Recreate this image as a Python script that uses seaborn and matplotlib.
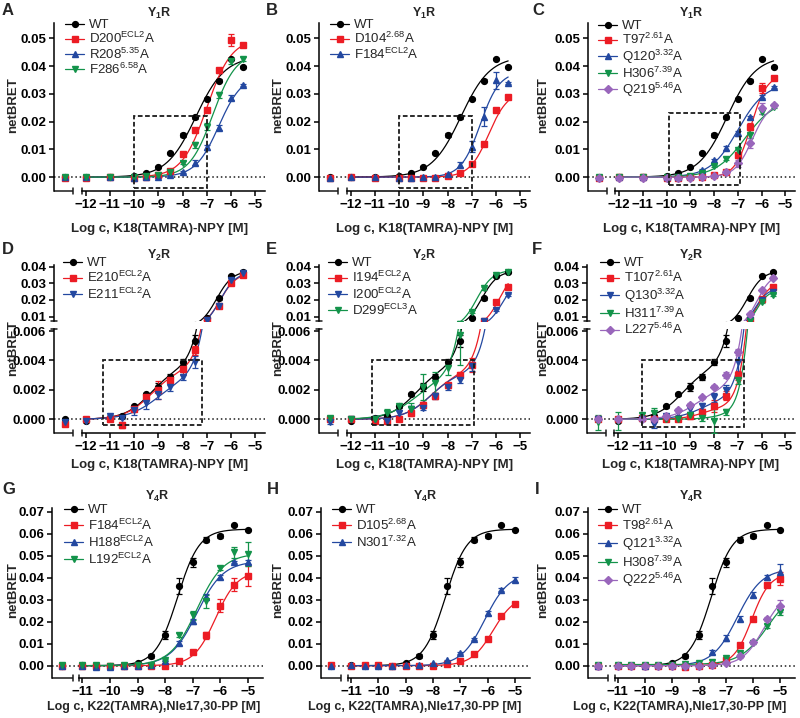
import numpy as np
import pandas as pd
import seaborn as sns
import matplotlib
matplotlib.use('Agg')
import matplotlib.pyplot as plt
from matplotlib.lines import Line2D
from matplotlib.patches import Rectangle
from matplotlib.ticker import FuncFormatter, FormatStrFormatter

# ---------------- data ----------------
# log concentrations; the first value of every series below is the buffer control
logc_y1 = [-12, -11, -10, -9.5, -9, -8.5, -8, -7.5, -7, -6.5, -6, -5.5]
logc_y2 = [-12, -11, -10.5, -10, -9.5, -9, -8.5, -8, -7.5, -7, -6.5, -6, -5.5]
logc_y4 = [-11, -10.5, -10, -9.5, -9, -8.5, -8, -7.5, -7, -6.5, -6, -5.5, -5]

# Y1R (A-C)
y1_wt = [0.0000, 0.0000, 0.0001, 0.0005, 0.0015, 0.0038, 0.0088, 0.0152, 0.0215, 0.0281, 0.0347, 0.0426, 0.0396]
y1_wt_err = [0.0002, 0.0002, 0.0002, 0.0002, 0.0002, 0.0003, 0.0004, 0.0006, 0.0005, 0.0005, 0.0005, 0.0003, 0.0003]
a_d200 = [-0.0003, -0.0002, 0.0000, -0.0004, 0.0000, 0.0009, 0.0021, 0.0083, 0.0168, 0.0243, 0.0384, 0.0495, 0.0477]
a_d200_err = [0.0002, 0.0002, 0.0002, 0.0003, 0.0002, 0.0003, 0.0003, 0.0005, 0.0005, 0.0006, 0.0008, 0.0022, 0.0004]
a_r208 = [0.0000, 0.0000, 0.0000, -0.0002, 0.0000, 0.0002, 0.0007, 0.0018, 0.0052, 0.0107, 0.0177, 0.0285, 0.0332]
a_r208_err = [0.0002, 0.0002, 0.0002, 0.0002, 0.0002, 0.0002, 0.0003, 0.0004, 0.0008, 0.0009, 0.0009, 0.0009, 0.0004]
a_f286 = [0.0000, 0.0000, 0.0000, 0.0000, 0.0003, 0.0008, 0.0019, 0.0052, 0.0116, 0.0182, 0.0296, 0.0418, 0.0425]
a_f286_err = [0.0002, 0.0002, 0.0002, 0.0002, 0.0002, 0.0003, 0.0004, 0.0006, 0.0012, 0.0014, 0.0012, 0.0009, 0.0007]
b_d104 = [-0.0004, 0.0001, -0.0002, -0.0004, -0.0002, -0.0002, -0.0002, 0.0004, 0.0014, 0.0048, 0.0121, 0.0240, 0.0287]
b_d104_err = [0.0002, 0.0002, 0.0002, 0.0002, 0.0002, 0.0002, 0.0002, 0.0003, 0.0004, 0.0005, 0.0006, 0.0006, 0.0005]
b_f184 = [-0.0003, 0.0000, -0.0001, -0.0003, -0.0002, 0.0000, 0.0001, 0.0010, 0.0045, 0.0110, 0.0218, 0.0349, 0.0340]
b_f184_err = [0.0002, 0.0002, 0.0002, 0.0002, 0.0002, 0.0002, 0.0002, 0.0004, 0.0009, 0.0020, 0.0035, 0.0030, 0.0003]
c_t97 = [-0.0003, -0.0001, -0.0001, -0.0002, -0.0002, -0.0001, 0.0000, 0.0008, 0.0020, 0.0078, 0.0182, 0.0322, 0.0357]
c_t97_err = [0.0002, 0.0002, 0.0002, 0.0002, 0.0002, 0.0002, 0.0002, 0.0003, 0.0004, 0.0010, 0.0012, 0.0018, 0.0008]
c_q120 = [0.0000, 0.0000, 0.0000, -0.0001, 0.0000, 0.0005, 0.0024, 0.0060, 0.0104, 0.0158, 0.0215, 0.0290, 0.0325]
c_q120_err = [0.0002, 0.0002, 0.0002, 0.0002, 0.0002, 0.0003, 0.0006, 0.0006, 0.0008, 0.0009, 0.0006, 0.0006, 0.0004]
c_h306 = [0.0000, 0.0000, 0.0000, 0.0000, 0.0000, 0.0005, 0.0015, 0.0040, 0.0066, 0.0096, 0.0150, 0.0234, 0.0254]
c_h306_err = [0.0002, 0.0002, 0.0002, 0.0002, 0.0002, 0.0002, 0.0003, 0.0004, 0.0005, 0.0006, 0.0008, 0.0008, 0.0006]
c_q219 = [-0.0002, -0.0002, -0.0002, -0.0003, -0.0002, -0.0002, 0.0000, 0.0005, 0.0020, 0.0050, 0.0123, 0.0248, 0.0258]
c_q219_err = [0.0002, 0.0002, 0.0002, 0.0002, 0.0002, 0.0002, 0.0002, 0.0003, 0.0004, 0.0012, 0.0017, 0.0020, 0.0007]

# Y2R (D-F)
y2_wt = [0.0000, -0.0001, 0.0001, 0.0002, 0.0009, 0.0017, 0.0022, 0.0029, 0.0039, 0.0053, 0.0094, 0.0210, 0.0344, 0.0370]
y2_wt_err = [0.0001, 0.0001, 0.0001, 0.0001, 0.0001, 0.0001, 0.0003, 0.0002, 0.0002, 0.0004, 0.0005, 0.0008, 0.0008, 0.0005]
d_e210 = [-0.0003, 0.0000, 0.0000, -0.0004, 0.0007, 0.0015, 0.0020, 0.0027, 0.0034, 0.0047, 0.0079, 0.0166, 0.0300, 0.0350]
d_e210_err = [0.0001, 0.0001, 0.0001, 0.0002, 0.0001, 0.0001, 0.0006, 0.0002, 0.0004, 0.0003, 0.0005, 0.0008, 0.0008, 0.0005]
d_e211 = [-0.0002, -0.0001, 0.0002, 0.0001, 0.0006, 0.0011, 0.0017, 0.0022, 0.0029, 0.0039, 0.0082, 0.0166, 0.0320, 0.0360]
d_e211_err = [0.0001, 0.0001, 0.0001, 0.0001, 0.0003, 0.0004, 0.0003, 0.0003, 0.0002, 0.0004, 0.0005, 0.0008, 0.0008, 0.0005]
e_i194 = [0.0000, 0.0000, -0.0001, -0.0001, 0.0000, 0.0004, 0.0010, 0.0016, 0.0023, 0.0030, 0.0037, 0.0074, 0.0186, 0.0280]
e_i194_err = [0.0001, 0.0001, 0.0001, 0.0001, 0.0001, 0.0002, 0.0002, 0.0002, 0.0002, 0.0002, 0.0005, 0.0005, 0.0008, 0.0006]
e_i200 = [-0.0002, 0.0000, 0.0000, -0.0001, 0.0004, 0.0007, 0.0008, 0.0016, 0.0022, 0.0027, 0.0036, 0.0074, 0.0140, 0.0230]
e_i200_err = [0.0001, 0.0001, 0.0001, 0.0001, 0.0002, 0.0002, 0.0002, 0.0002, 0.0002, 0.0002, 0.0003, 0.0005, 0.0008, 0.0006]
e_d299 = [0.0001, 0.0000, 0.0000, 0.0004, 0.0009, 0.0007, 0.0022, 0.0025, 0.0035, 0.0057, 0.0130, 0.0270, 0.0350, 0.0370]
e_d299_err = [0.0001, 0.0001, 0.0001, 0.0003, 0.0001, 0.0004, 0.0009, 0.0007, 0.0005, 0.0020, 0.0010, 0.0010, 0.0008, 0.0005]
f_t107 = [0.0000, 0.0000, 0.0001, 0.0000, 0.0000, 0.0000, 0.0002, 0.0005, 0.0009, 0.0016, 0.0030, 0.0080, 0.0205, 0.0280]
f_t107_err = [0.0001, 0.0001, 0.0001, 0.0001, 0.0001, 0.0001, 0.0002, 0.0002, 0.0004, 0.0003, 0.0003, 0.0005, 0.0008, 0.0008]
f_q130 = [0.0000, -0.0001, 0.0000, -0.0003, 0.0002, 0.0005, 0.0007, 0.0009, 0.0015, 0.0020, 0.0039, 0.0080, 0.0200, 0.0250]
f_q130_err = [0.0001, 0.0001, 0.0001, 0.0003, 0.0001, 0.0002, 0.0002, 0.0002, 0.0003, 0.0003, 0.0008, 0.0005, 0.0008, 0.0008]
f_h311 = [-0.0002, -0.0001, 0.0003, 0.0004, 0.0000, 0.0000, 0.0003, 0.0001, -0.0001, 0.0005, 0.0027, 0.0075, 0.0190, 0.0230]
f_h311_err = [0.0005, 0.0006, 0.0001, 0.0004, 0.0001, 0.0001, 0.0002, 0.0002, 0.0008, 0.0002, 0.0003, 0.0005, 0.0008, 0.0008]
f_l227 = [0.0000, 0.0000, 0.0000, 0.0000, 0.0002, 0.0006, 0.0010, 0.0015, 0.0022, 0.0030, 0.0046, 0.0117, 0.0260, 0.0335]
f_l227_err = [0.0001, 0.0001, 0.0001, 0.0001, 0.0001, 0.0001, 0.0001, 0.0001, 0.0001, 0.0002, 0.0002, 0.0005, 0.0008, 0.0008]

# Y4R (G-I)
y4_wt = [0.0000, 0.0003, 0.0000, -0.0003, 0.0000, 0.0012, 0.0045, 0.0140, 0.0362, 0.0470, 0.0572, 0.0590, 0.0637, 0.0617]
y4_wt_err = [0.0002, 0.0002, 0.0002, 0.0003, 0.0002, 0.0004, 0.0008, 0.0018, 0.0038, 0.0020, 0.0012, 0.0010, 0.0003, 0.0003]
g_f184 = [0.0000, -0.0002, -0.0003, -0.0002, -0.0003, -0.0002, 0.0000, 0.0000, 0.0023, 0.0062, 0.0138, 0.0272, 0.0368, 0.0408]
g_f184_err = [0.0002, 0.0002, 0.0002, 0.0002, 0.0002, 0.0002, 0.0002, 0.0002, 0.0004, 0.0007, 0.0015, 0.0030, 0.0030, 0.0045]
g_h188 = [-0.0003, -0.0003, -0.0005, -0.0005, -0.0003, -0.0001, 0.0001, 0.0023, 0.0103, 0.0201, 0.0312, 0.0402, 0.0470, 0.0470]
g_h188_err = [0.0002, 0.0002, 0.0002, 0.0002, 0.0002, 0.0002, 0.0002, 0.0004, 0.0010, 0.0010, 0.0015, 0.0010, 0.0006, 0.0010]
g_l192 = [0.0002, 0.0002, 0.0002, 0.0000, 0.0001, 0.0001, 0.0003, 0.0025, 0.0138, 0.0228, 0.0292, 0.0443, 0.0516, 0.0507]
g_l192_err = [0.0002, 0.0002, 0.0002, 0.0002, 0.0002, 0.0002, 0.0002, 0.0004, 0.0010, 0.0020, 0.0030, 0.0010, 0.0025, 0.0055]
h_d105 = [0.0002, 0.0000, 0.0002, 0.0001, 0.0000, 0.0000, 0.0000, 0.0000, 0.0006, 0.0021, 0.0053, 0.0120, 0.0226, 0.0278]
h_d105_err = [0.0002, 0.0002, 0.0002, 0.0002, 0.0002, 0.0002, 0.0002, 0.0002, 0.0002, 0.0003, 0.0004, 0.0005, 0.0005, 0.0005]
h_n301 = [-0.0003, 0.0003, -0.0002, -0.0002, 0.0000, 0.0003, 0.0004, 0.0011, 0.0024, 0.0057, 0.0120, 0.0239, 0.0345, 0.0390]
h_n301_err = [0.0002, 0.0002, 0.0002, 0.0002, 0.0002, 0.0002, 0.0002, 0.0002, 0.0003, 0.0003, 0.0005, 0.0010, 0.0008, 0.0012]
i_t98 = [0.0000, 0.0000, -0.0001, -0.0002, -0.0001, -0.0002, -0.0005, -0.0002, 0.0005, 0.0027, 0.0092, 0.0213, 0.0367, 0.0395]
i_t98_err = [0.0002, 0.0002, 0.0002, 0.0002, 0.0002, 0.0002, 0.0002, 0.0002, 0.0003, 0.0004, 0.0005, 0.0008, 0.0010, 0.0030]
i_q121 = [-0.0001, 0.0003, 0.0002, 0.0000, 0.0001, 0.0002, 0.0003, 0.0010, 0.0062, 0.0126, 0.0213, 0.0322, 0.0402, 0.0425]
i_q121_err = [0.0002, 0.0002, 0.0002, 0.0002, 0.0002, 0.0002, 0.0002, 0.0003, 0.0010, 0.0012, 0.0012, 0.0012, 0.0012, 0.0035]
i_h308 = [0.0001, 0.0005, 0.0005, 0.0005, 0.0005, 0.0005, 0.0008, 0.0012, 0.0015, 0.0035, 0.0057, 0.0103, 0.0179, 0.0244]
i_h308_err = [0.0002, 0.0002, 0.0002, 0.0002, 0.0002, 0.0002, 0.0002, 0.0002, 0.0003, 0.0004, 0.0005, 0.0005, 0.0008, 0.0015]
i_q222 = [0.0000, 0.0000, 0.0000, 0.0000, 0.0000, 0.0000, 0.0000, 0.0000, 0.0003, 0.0010, 0.0042, 0.0106, 0.0213, 0.0272]
i_q222_err = [0.0002, 0.0002, 0.0002, 0.0002, 0.0002, 0.0002, 0.0002, 0.0002, 0.0003, 0.0004, 0.0005, 0.0006, 0.0008, 0.0028]

# fitted curves: [bottom, top, logEC50, hill] or two-site [bottom, amp1, logEC1, h1, amp2, logEC2, h2]
fit_y1_wt = [0, 0.0435, -7.45, 0.72]
fit_a_d200 = [0, 0.050, -7.0, 0.85]
fit_a_r208 = [0, 0.037, -6.5, 0.9]
fit_a_f286 = [0, 0.045, -6.75, 0.9]
fit_b_d104 = [0, 0.031, -6.3, 1.1]
fit_b_f184 = [0, 0.038, -6.65, 1.1]
fit_c_t97 = [0, 0.037, -6.45, 1.3]
fit_c_q120 = [0, 0.034, -7.0, 0.75]
fit_c_h306 = [0, 0.028, -6.7, 0.7]
fit_c_q219 = [0, 0.027, -6.4, 1.2]
fit_y2_wt = [0, 0.0036, -9.3, 0.8, 0.034, -6.6, 1.3]
fit_d_e210 = [0, 0.0034, -9.3, 0.8, 0.033, -6.45, 1.3]
fit_d_e211 = [0, 0.0030, -9.0, 0.7, 0.034, -6.45, 1.3]
fit_e_i194 = [0, 0.0032, -8.7, 0.8, 0.036, -5.85, 1.3]
fit_e_i200 = [0, 0.0032, -8.7, 0.8, 0.032, -5.7, 1.3]
fit_e_d299 = [0, 0.0030, -9.3, 0.7, 0.035, -6.8, 1.3]
fit_f_t107 = [0, 0.0008, -8.5, 1.0, 0.030, -6.2, 1.5]
fit_f_q130 = [0, 0.0015, -8.5, 0.8, 0.026, -6.3, 1.5]
fit_f_h311 = [0, 0.0003, -8.0, 1.0, 0.026, -6.25, 1.6]
fit_f_l227 = [0, 0.0022, -8.7, 0.8, 0.034, -6.2, 1.4]
fit_y4_wt = [0, 0.062, -7.55, 1.1]
fit_g_f184 = [0, 0.043, -6.17, 1.1]
fit_g_h188 = [0, 0.0475, -6.85, 0.9]
fit_g_l192 = [0, 0.051, -6.85, 0.9]
fit_h_d105 = [0, 0.032, -5.8, 1.1]
fit_h_n301 = [0, 0.042, -6.1, 1.0]
fit_i_t98 = [0, 0.042, -6.05, 1.3]
fit_i_q121 = [0, 0.044, -6.58, 0.95]
fit_i_h308 = [0.0005, 0.0355, -5.45, 0.85]
fit_i_q222 = [0, 0.034, -5.6, 1.1]

# ---------------- style ----------------
W, H = 800, 718
BLACK, RED, BLUE, GREEN, PURPLE = '#000000', '#ec1c24', '#2348a0', '#13934a', '#9966bb'
LW = 1.1
MS = 4.2

sns.set_theme(style='ticks')
plt.rcParams['font.family'] = ['Liberation Sans', 'DejaVu Sans']
plt.rcParams['font.weight'] = 'bold'
plt.rcParams['mathtext.fontset'] = 'custom'
plt.rcParams['mathtext.rm'] = 'Liberation Sans:regular'
plt.rcParams['mathtext.bf'] = 'Liberation Sans:bold'
plt.rcParams['axes.linewidth'] = LW
plt.rcParams['axes.edgecolor'] = 'black'


def curve(x, p):
    if len(p) == 4:
        bottom, top, ec, h = p
        return bottom + (top - bottom) / (1 + 10 ** ((ec - x) * h))
    bottom, a1, ec1, h1, a2, ec2, h2 = p
    return bottom + a1 / (1 + 10 ** ((ec1 - x) * h1)) + a2 / (1 + 10 ** ((ec2 - x) * h2))


def sup(name, s):
    return name + '$^{\\mathrm{' + s + '}}$A'


def px_axes(fig, box):
    l, t, r, b = box
    ax = fig.add_axes([l / W, 1 - b / H, (r - l) / W, (b - t) / H])
    ax.patch.set_alpha(0)
    for s in ['top', 'right']:
        ax.spines[s].set_visible(False)
    ax.tick_params(direction='out', length=3.6, width=LW, labelsize=9.5, pad=2, colors='black')
    return ax


def plot_series(ax, xpos, y, err, fit, color, marker):
    xs = np.linspace(xpos[1], xpos[-1], 300)
    fit_df = pd.DataFrame({'logc': xs, 'netBRET': curve(xs, fit)})
    sns.lineplot(data=fit_df, x='logc', y='netBRET', ax=ax, color=color, lw=0.9,
                 estimator=None, legend=False)
    ax.errorbar(xpos, y, yerr=err, fmt=marker, color=color, ms=MS, elinewidth=0.9,
                capsize=2.2, capthick=0.9, zorder=3)
    ax.set_xlabel('')
    ax.set_ylabel('')


def x_axis(ax, xlim, xticks, brk):
    ax.set_xlim(xlim)
    ax.set_xticks(xticks)
    ax.xaxis.set_major_formatter(FuncFormatter(lambda v, p: f'{v:.0f}'.replace('-', '\u2212')))
    ax.spines['bottom'].set_bounds(brk[1], xlim[1])
    tr = ax.get_xaxis_transform()
    ax.plot([xlim[0], brk[0]], [0, 0], transform=tr, color='k', lw=LW, clip_on=False,
            solid_capstyle='butt')
    h = 3.0 / ax.bbox.height
    for xb in brk:
        ax.plot([xb, xb], [-h, h], transform=tr, color='k', lw=LW, clip_on=False)


# ---------------- panels ----------------
panels = [
    dict(tag='A', rec='1', row=0, col=0, logc=logc_y1, box=[-10, -0.004, -7, 0.022],
         series=[('WT', y1_wt, y1_wt_err, fit_y1_wt, BLACK, 'o'),
                 (sup('D200', 'ECL2'), a_d200, a_d200_err, fit_a_d200, RED, 's'),
                 (sup('R208', '5.35'), a_r208, a_r208_err, fit_a_r208, BLUE, '^'),
                 (sup('F286', '6.58'), a_f286, a_f286_err, fit_a_f286, GREEN, 'v')]),
    dict(tag='B', rec='1', row=0, col=1, logc=logc_y1, box=[-10, -0.004, -7, 0.022],
         series=[('WT', y1_wt, y1_wt_err, fit_y1_wt, BLACK, 'o'),
                 (sup('D104', '2.68'), b_d104, b_d104_err, fit_b_d104, RED, 's'),
                 (sup('F184', 'ECL2'), b_f184, b_f184_err, fit_b_f184, BLUE, '^')]),
    dict(tag='C', rec='1', row=0, col=2, logc=logc_y1, box=[-9.9, -0.003, -6.9, 0.023],
         series=[('WT', y1_wt, y1_wt_err, fit_y1_wt, BLACK, 'o'),
                 (sup('T97', '2.61'), c_t97, c_t97_err, fit_c_t97, RED, 's'),
                 (sup('Q120', '3.32'), c_q120, c_q120_err, fit_c_q120, BLUE, '^'),
                 (sup('H306', '7.39'), c_h306, c_h306_err, fit_c_h306, GREEN, 'v'),
                 (sup('Q219', '5.46'), c_q219, c_q219_err, fit_c_q219, PURPLE, 'D')]),
    dict(tag='D', rec='2', row=1, col=0, logc=logc_y2, box=[-11.3, -0.0004, -7.2, 0.004],
         series=[('WT', y2_wt, y2_wt_err, fit_y2_wt, BLACK, 'o'),
                 (sup('E210', 'ECL2'), d_e210, d_e210_err, fit_d_e210, RED, 's'),
                 (sup('E211', 'ECL2'), d_e211, d_e211_err, fit_d_e211, BLUE, 'v')]),
    dict(tag='E', rec='2', row=1, col=1, logc=logc_y2, box=[-11.1, -0.0004, -6.9, 0.004],
         series=[('WT', y2_wt, y2_wt_err, fit_y2_wt, BLACK, 'o'),
                 (sup('I194', 'ECL2'), e_i194, e_i194_err, fit_e_i194, RED, 's'),
                 (sup('I200', 'ECL2'), e_i200, e_i200_err, fit_e_i200, BLUE, 'v'),
                 (sup('D299', 'ECL3'), e_d299, e_d299_err, fit_e_d299, GREEN, 'v')]),
    dict(tag='F', rec='2', row=1, col=2, logc=logc_y2, box=[-11.0, -0.0005, -6.75, 0.004],
         series=[('WT', y2_wt, y2_wt_err, fit_y2_wt, BLACK, 'o'),
                 (sup('T107', '2.61'), f_t107, f_t107_err, fit_f_t107, RED, 's'),
                 (sup('Q130', '3.32'), f_q130, f_q130_err, fit_f_q130, BLUE, 'v'),
                 (sup('H311', '7.39'), f_h311, f_h311_err, fit_f_h311, GREEN, 'v'),
                 (sup('L227', '5.46'), f_l227, f_l227_err, fit_f_l227, PURPLE, 'D')]),
    dict(tag='G', rec='4', row=2, col=0, logc=logc_y4, box=None,
         series=[('WT', y4_wt, y4_wt_err, fit_y4_wt, BLACK, 'o'),
                 (sup('F184', 'ECL2'), g_f184, g_f184_err, fit_g_f184, RED, 's'),
                 (sup('H188', 'ECL2'), g_h188, g_h188_err, fit_g_h188, BLUE, '^'),
                 (sup('L192', 'ECL2'), g_l192, g_l192_err, fit_g_l192, GREEN, 'v')]),
    dict(tag='H', rec='4', row=2, col=1, logc=logc_y4, box=None,
         series=[('WT', y4_wt, y4_wt_err, fit_y4_wt, BLACK, 'o'),
                 (sup('D105', '2.68'), h_d105, h_d105_err, fit_h_d105, RED, 's'),
                 (sup('N301', '7.32'), h_n301, h_n301_err, fit_h_n301, BLUE, '^')]),
    dict(tag='I', rec='4', row=2, col=2, logc=logc_y4, box=None,
         series=[('WT', y4_wt, y4_wt_err, fit_y4_wt, BLACK, 'o'),
                 (sup('T98', '2.61'), i_t98, i_t98_err, fit_i_t98, RED, 's'),
                 (sup('Q121', '3.32'), i_q121, i_q121_err, fit_i_q121, BLUE, '^'),
                 (sup('H308', '7.39'), i_h308, i_h308_err, fit_i_h308, GREEN, 'v'),
                 (sup('Q222', '5.46'), i_q222, i_q222_err, fit_i_q222, PURPLE, 'D')]),
]

# layout in pixels (left, top, right, bottom)
col_lr = [[(54, 265), (319, 530), (588, 795)],
          [(54, 265), (319, 530), (587, 795)],
          [(52, 263), (321, 530), (588, 795)]]
row1_tb = (23, 191)
row2_top_tb = (265, 321)
row2_bot_tb = (329, 433)
row3_tb = (508, 678)
title_y = [13, 255, 496]
ylabel_y = [105, 348, 590]
leg_xy = [[(65, 19), (330, 19), (598, 20)],
          [(63, 257), (328, 257), (600, 257)],
          [(64, 504), (332, 504), (598, 504)]]
leg_spacing = [0.0, 0.08, 0.12]
letter_xy = [[(2, 3), (266, 3), (532, 3)],
             [(2, 242), (266, 242), (532, 242)],
             [(2, 482), (267, 482), (535, 482)]]
xlabel_pad = [8.5, 4.5, 2.5]
xlabel_size = [9.5, 9.5, 9.0]
xlabel_x = [[0.5, 0.5, 0.5], [0.5, 0.5, 0.5], [0.48, 0.45, 0.445]]

fig = plt.figure(figsize=(W / 100, H / 100), dpi=100)

for p in panels:
    r, c = p['row'], p['col']
    l, rr = col_lr[r][c]
    if r == 1:
        base_x = -12.85
        xpos = [base_x] + p['logc']
        ax_bot = px_axes(fig, (l, row2_bot_tb[0], rr, row2_bot_tb[1]))
        ax_top = px_axes(fig, (l, row2_top_tb[0], rr, row2_top_tb[1]))
        for a in [ax_bot, ax_top]:
            for s in p['series']:
                plot_series(a, xpos, s[1], s[2], s[3], s[4], s[5])
        ax_bot.set_ylim(-0.00093, 0.00614)
        ax_bot.set_yticks([0, 0.002, 0.004, 0.006])
        ax_bot.yaxis.set_major_formatter(FormatStrFormatter('%.3f'))
        ax_top.set_ylim(0.0074, 0.041)
        ax_top.set_yticks([0.01, 0.02, 0.03, 0.04])
        ax_top.yaxis.set_major_formatter(FormatStrFormatter('%.2f'))
        ax_top.set_xlim(-13.3, -4.6)
        ax_top.spines['bottom'].set_visible(False)
        ax_top.tick_params(axis='x', bottom=False, labelbottom=False)
        x_axis(ax_bot, (-13.3, -4.6), list(range(-12, -4)), (-12.5, -12.15))
        # y-axis break marks
        w = 3.0 / ax_top.bbox.width
        ax_top.plot([-w, w], [0, 0], transform=ax_top.transAxes, color='k', lw=LW, clip_on=False)
        ax_bot.plot([-w, w], [1, 1], transform=ax_bot.transAxes, color='k', lw=LW, clip_on=False)
        main, leg_ax = ax_bot, ax_top
        xlabel = 'Log c, K18(TAMRA)-NPY [M]'
    else:
        tb = row1_tb if r == 0 else row3_tb
        ax = px_axes(fig, (l, tb[0], rr, tb[1]))
        base_x = -12.85 if r == 0 else -11.72
        xpos = [base_x] + p['logc']
        for s in p['series']:
            plot_series(ax, xpos, s[1], s[2], s[3], s[4], s[5])
        if r == 0:
            ax.set_ylim(-0.005, 0.0555)
            ax.set_yticks([0, 0.01, 0.02, 0.03, 0.04, 0.05])
            x_axis(ax, (-13.3, -4.6), list(range(-12, -4)), (-12.5, -12.15))
            xlabel = 'Log c, K18(TAMRA)-NPY [M]'
        else:
            ax.set_ylim(-0.0056, 0.0716)
            ax.set_yticks([0, 0.01, 0.02, 0.03, 0.04, 0.05, 0.06, 0.07])
            x_axis(ax, (-12.1, -4.45), list(range(-11, -4)), (-11.35, -11.12))
            xlabel = 'Log c, K22(TAMRA),Nle17,30-PP [M]'
        ax.yaxis.set_major_formatter(FormatStrFormatter('%.2f'))
        main, leg_ax = ax, ax

    main.axhline(0, color='k', lw=LW, ls=(0, (1, 1.8)), zorder=1)
    if p['box'] is not None:
        x0, y0, x1, y1 = p['box']
        main.add_patch(Rectangle((x0, y0), x1 - x0, y1 - y0, fill=False, ec='k',
                                 lw=1.3, ls=(0, (2.6, 1.4)), zorder=4))
    main.set_xlabel(xlabel, fontsize=xlabel_size[r], fontweight='bold', labelpad=xlabel_pad[r])
    main.xaxis.label.set_x(xlabel_x[r][c])

    handles = [Line2D([], [], color=s[4], marker=s[5], ms=MS, lw=0.9) for s in p['series']]
    labels = [s[0] for s in p['series']]
    lx, ly = leg_xy[r][c]
    leg_ax.legend(handles, labels, loc='upper left', bbox_to_anchor=(lx / W, 1 - ly / H),
                  bbox_transform=fig.transFigure, frameon=False, borderpad=0,
                  borderaxespad=0, handlelength=1.45, handletextpad=0.4,
                  labelspacing=leg_spacing[r], prop={'weight': 'normal', 'size': 9.5})

    fig.text((l + rr) / 2 / W, 1 - title_y[r] / H, 'Y$_{\\mathbf{' + p['rec'] + '}}$R',
             ha='center', va='center', fontsize=9, fontweight='bold')
    fig.text((13 + 265 * c) / W, 1 - ylabel_y[r] / H, 'netBRET', rotation=90,
             ha='center', va='center', fontsize=9.5, fontweight='bold')
    tx, ty = letter_xy[r][c]
    fig.text(tx / W, 1 - ty / H, p['tag'], ha='left', va='top', fontsize=12, fontweight='bold')

fig.savefig('out.png', dpi=100)
